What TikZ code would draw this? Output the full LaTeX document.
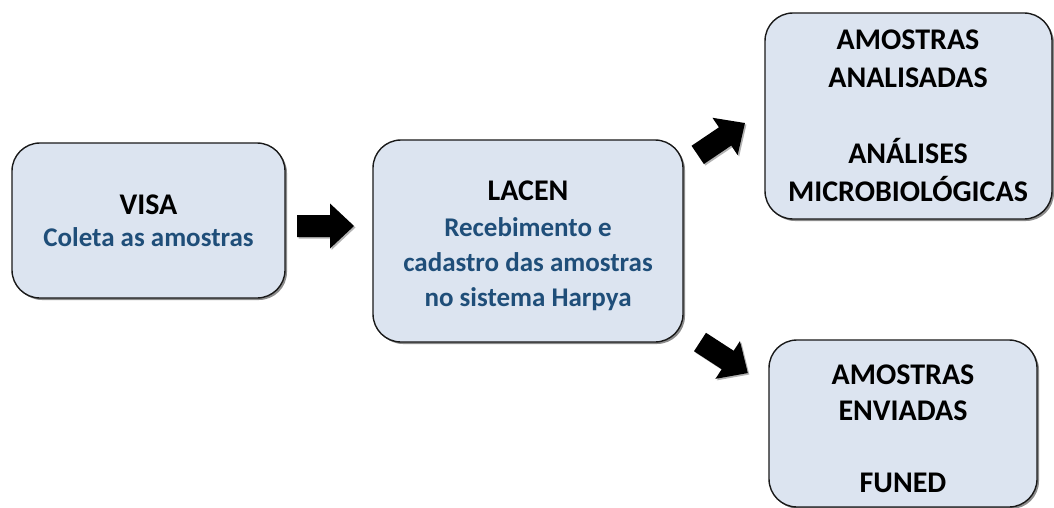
\documentclass[tikz,border=0pt]{standalone}
\usepackage{fontspec}
\setmainfont{Carlito}
\usetikzlibrary{shadows}
\definecolor{boxfill}{RGB}{220,228,240}
\definecolor{boxline}{RGB}{25,25,25}
\definecolor{bluetext}{RGB}{31,78,121}
\newcommand\bluel[1]{{\fontsize{27}{27}\selectfont\color{bluetext}#1}}
\tikzset{
  procbox/.style={draw=boxline, line width=1.4pt, fill=boxfill, rounded corners=28pt,
    inner sep=0pt,
    drop shadow={shadow xshift=2pt, shadow yshift=-2pt, opacity=0.45, fill=black}},
  boxtext/.style={align=center, inner sep=0pt},
  blockarrow/.pic={\fill[black, drop shadow={shadow xshift=1.5pt, shadow yshift=-1.5pt, opacity=0.3, fill=black}]
    (0,-11) -- (33,-11) -- (33,-22.5) -- (57,0) -- (33,22.5) -- (33,11) -- (0,11) -- cycle;}
}
\begin{document}
\begin{tikzpicture}[x=1pt,y=-1pt]
\useasboundingbox (0,0) rectangle (1054,508);
\node[procbox, minimum width=273pt, minimum height=155pt] (visa) at (148.5,220.5) {};
\node[procbox, minimum width=310pt, minimum height=202pt] (lacen) at (528,241) {};
\node[procbox, minimum width=287pt, minimum height=206pt] (anal) at (908.5,116) {};
\node[procbox, minimum width=268pt, minimum height=167pt] (env) at (903,423.5) {};
\node[boxtext, font=\bfseries\fontsize{30}{32}\selectfont] (visat) at (148.5,221)
  {VISA\\\bluel{Coleta as amostras}};
\node[boxtext, font=\bfseries\fontsize{30}{35.3}\selectfont] (lacent) at (528,246)
  {LACEN\\\bluel{Recebimento e}\\\bluel{cadastro das amostras}\\\bluel{no sistema Harpya}};
\node[boxtext, font=\bfseries\fontsize{30}{38}\selectfont] (analt) at (908,115.5)
  {AMOSTRAS\\ANALISADAS\\[38pt]ANÁLISES\\MICROBIOLÓGICAS};
\node[boxtext, font=\bfseries\fontsize{30}{36}\selectfont] (envt) at (903,428.5)
  {AMOSTRAS\\ENVIADAS\\[36pt]FUNED};
\coordinate (a1) at (297,226);
\coordinate (a2) at (697.7,154.9);
\coordinate (a3) at (700,342);
\pic at (a1) {blockarrow};
\pic[rotate=34] at (a2) {blockarrow};
\pic[rotate=-33] at (a3) {blockarrow};
\end{tikzpicture}
\end{document}
